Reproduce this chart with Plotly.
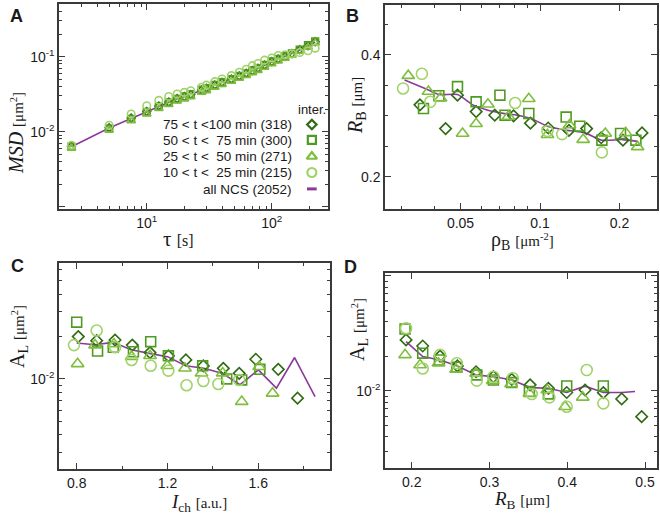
import plotly.graph_objects as go

W, H = 660, 521

# ---------------- Panel A : MSD vs tau ----------------
tau = [2.5, 5, 7.5, 10, 12.5, 15, 17.5, 20, 22.5, 27.5, 30, 35, 40, 47.5, 55,
       62.5, 70, 77.5, 87.5, 100, 112.5, 127.5, 145, 167.5, 195, 222.5]
msd_all = [0.0063, 0.0112, 0.0150, 0.0185, 0.0218, 0.0247, 0.0275, 0.0292, 0.0312,
           0.0357, 0.0378, 0.0418, 0.0452, 0.0498, 0.0548, 0.0598, 0.0648, 0.0698,
           0.0768, 0.0855, 0.0925, 0.1005, 0.1095, 0.1230, 0.1390, 0.1570]
msd_75_100 = [0.0064, 0.0113, 0.0152, 0.0186, 0.0220, 0.0248, 0.0276, 0.0294, 0.0313,
              0.0360, 0.0380, 0.0420, 0.0455, 0.0502, 0.0552, 0.0602, 0.0652, 0.0702,
              0.0772, 0.0860, 0.0930, 0.1010, 0.1100, 0.1240, 0.1400, 0.1580]
msd_50_75 = [0.0063, 0.0110, 0.0148, 0.0183, 0.0216, 0.0245, 0.0273, 0.0295, 0.0316,
             0.0362, 0.0380, 0.0422, 0.0457, 0.0500, 0.0555, 0.0600, 0.0655, 0.0700,
             0.0775, 0.0862, 0.0935, 0.1015, 0.1110, 0.1245, 0.1420, 0.1600]
msd_25_50 = [0.0060, 0.0105, 0.0140, 0.0172, 0.0203, 0.0230, 0.0256, 0.0273, 0.0292,
             0.0335, 0.0352, 0.0392, 0.0425, 0.0468, 0.0515, 0.0560, 0.0608, 0.0655,
             0.0722, 0.0805, 0.0872, 0.0950, 0.1040, 0.1180, 0.1340, 0.1530]
msd_10_25 = [0.0066, 0.0122, 0.0172, 0.0222, 0.0262, 0.0295, 0.0318, 0.0335, 0.0352,
             0.0392, 0.0418, 0.0465, 0.0505, 0.0560, 0.0620, 0.0680, 0.0760, 0.0810,
             0.0900, 0.0960, 0.1040, 0.1060, 0.1090, 0.1140, 0.1200, 0.1300]

# ---------------- Panel B : R_B vs rho_B ----------------
rhoB_all = [0.0307, 0.0367, 0.0414, 0.0487, 0.0556, 0.0626, 0.0726, 0.0817, 0.092,
            0.1067, 0.1237, 0.1479, 0.1715, 0.205, 0.234]
RB_all = [0.359, 0.345, 0.335, 0.335, 0.318, 0.310, 0.304, 0.301, 0.296,
          0.283, 0.277, 0.272, 0.260, 0.261, 0.258]
rhoB_75_100 = [0.0351, 0.0439, 0.0487, 0.0573, 0.0674, 0.0794, 0.092, 0.1074, 0.1287,
               0.1501, 0.1705, 0.2061, 0.2434]
RB_75_100 = [0.318, 0.279, 0.334, 0.307, 0.301, 0.300, 0.288, 0.280, 0.276,
             0.279, 0.264, 0.260, 0.272]
rhoB_50_75 = [0.0362, 0.0414, 0.0487, 0.0573, 0.0705, 0.0737, 0.0907, 0.1256, 0.1414,
              0.1715, 0.2018, 0.2307]
RB_50_75 = [0.312, 0.333, 0.348, 0.323, 0.334, 0.301, 0.304, 0.298, 0.283,
            0.260, 0.271, 0.260]
rhoB_25_50 = [0.0317, 0.0378, 0.042, 0.0509, 0.0573, 0.0635, 0.0759, 0.0907, 0.1067,
              0.1294, 0.1457, 0.1767, 0.2111, 0.2342]
RB_25_50 = [0.366, 0.340, 0.329, 0.271, 0.287, 0.319, 0.299, 0.328, 0.269,
            0.285, 0.261, 0.271, 0.272, 0.249]
rhoB_10_25 = [0.0303, 0.0357, 0.0384, 0.0805, 0.1067, 0.1213, 0.1715]
RB_10_25 = [0.345, 0.369, 0.323, 0.321, 0.275, 0.270, 0.240]

# ---------------- Panel C : A_L vs I_ch ----------------
Ich_all = [0.80, 0.88, 0.96, 1.04, 1.12, 1.20, 1.28, 1.36, 1.44, 1.52, 1.60, 1.68, 1.76, 1.85]
AL_C_all = [0.0180, 0.0175, 0.0182, 0.0161, 0.0152, 0.0144, 0.0124, 0.0119, 0.0110,
            0.0091, 0.0116, 0.0086, 0.0142, 0.0075]
Ich_75_100 = [0.807, 0.888, 0.969, 1.045, 1.123, 1.204, 1.281, 1.358, 1.446, 1.516,
              1.589, 1.688, 1.773]
AL_C_75_100 = [0.0200, 0.0187, 0.0189, 0.0174, 0.0154, 0.0146, 0.01365, 0.01237, 0.0119,
               0.01096, 0.0138, 0.0117, 0.0073]
Ich_50_75 = [0.800, 0.892, 0.961, 1.050, 1.126, 1.204, 1.355, 1.461, 1.527, 1.607]
AL_C_50_75 = [0.0253, 0.0158, 0.0168, 0.0156, 0.0184, 0.0146, 0.0124, 0.0100, 0.00984, 0.0117]
Ich_25_50 = [0.804, 0.881, 0.964, 1.042, 1.123, 1.199, 1.277, 1.350, 1.443, 1.527,
             1.604, 1.663]
AL_C_25_50 = [0.0128, 0.0174, 0.0177, 0.0144, 0.0146, 0.0124, 0.0119, 0.0110, 0.0110,
              0.0069, 0.0122, 0.0079]
Ich_10_25 = [0.788, 0.888, 0.969, 1.042, 1.126, 1.204, 1.284, 1.358, 1.424, 1.516]
AL_C_10_25 = [0.0174, 0.0221, 0.0168, 0.01365, 0.0124, 0.01146, 0.00902, 0.00968, 0.0092,
              0.00984]

# ---------------- Panel D : A_L vs R_B ----------------
RBd_all = [0.1927, 0.2141, 0.2364, 0.2587, 0.2827, 0.3050, 0.3286, 0.3522, 0.3757,
           0.3993, 0.4229, 0.4464, 0.4700, 0.4871]
AL_D_all = [0.0269, 0.0199, 0.0186, 0.0165, 0.0138, 0.0133, 0.0125, 0.0107, 0.01055,
            0.0097, 0.0110, 0.0097, 0.0097, 0.0099]
RBd_75_100 = [0.1927, 0.2141, 0.2364, 0.2587, 0.2827, 0.3050, 0.3286, 0.3522, 0.3757,
              0.3993, 0.4229, 0.4464, 0.4700, 0.4957]
AL_D_75_100 = [0.0278, 0.0246, 0.0201, 0.0165, 0.0147, 0.0133, 0.0126, 0.0113, 0.01055,
               0.0097, 0.0102, 0.00967, 0.00852, 0.00598]
RBd_50_75 = [0.1914, 0.2141, 0.2356, 0.2579, 0.2836, 0.3050, 0.3286, 0.3513, 0.3757,
             0.3993, 0.4464]
AL_D_50_75 = [0.0346, 0.0213, 0.0186, 0.0161, 0.0138, 0.01246, 0.01182, 0.00987, 0.00942,
              0.01105, 0.01105]
RBd_25_50 = [0.1914, 0.2107, 0.2343, 0.2570, 0.2827, 0.3041, 0.3277, 0.3513, 0.3744,
             0.3972, 0.4199]
AL_D_25_50 = [0.0206, 0.0168, 0.0174, 0.0154, 0.0142, 0.0123, 0.0115, 0.0095, 0.0102,
              0.0073, 0.0088]
RBd_10_25 = [0.1927, 0.2141, 0.2364, 0.2579, 0.2836, 0.3050, 0.3299, 0.3543, 0.3770,
             0.3993, 0.4250, 0.4464]
AL_D_10_25 = [0.0351, 0.0157, 0.0206, 0.0174, 0.0123, 0.0133, 0.0129, 0.0094, 0.0088,
              0.0073, 0.0152, 0.0078]

# ---------------- legend / labels ----------------
legend_labels = ["75 &lt; t &lt;100 min (318)",
                 "50 &lt; t &lt;\u00a0\u00a075 min (300)",
                 "25 &lt; t &lt;\u00a0\u00a050 min (271)",
                 "10 &lt; t &lt;\u00a0\u00a025 min (215)",
                 "all NCS (2052)"]

C_D = "#2f6b12"   # 75-100
C_S = "#4f9a22"   # 50-75
C_T = "#7fbd3e"   # 25-50
C_C = "#a2d36b"   # 10-25
C_P = "#8b3a9b"   # all NCS
SANS = "Liberation Sans, Arial, sans-serif"
SERIF = "Liberation Serif, Times New Roman, serif"
AXC = "#3a3a3a"

groups = [("diamond-open", C_D), ("square-open", C_S),
          ("triangle-up-open", C_T), ("circle-open", C_C)]
sym_scale = {"diamond-open": 0.8, "square-open": 0.9, "triangle-up-open": 1.0, "circle-open": 1.0}

fig = go.Figure()

def add_panel(xref, yref, xs_all, ys_all, series, msize, lw, spline=False):
    fig.add_trace(go.Scatter(x=xs_all, y=ys_all, mode="lines", xaxis=xref, yaxis=yref,
                             line=dict(color=C_P, width=1.6,
                                       shape="spline" if spline else "linear",
                                       smoothing=0.6),
                             showlegend=False, hoverinfo="skip"))
    for (sym, col), (xs, ys) in zip(groups, series):
        fig.add_trace(go.Scatter(x=xs, y=ys, mode="markers", xaxis=xref, yaxis=yref,
                                 marker=dict(symbol=sym, size=msize * sym_scale[sym],
                                             color=col, line=dict(color=col, width=lw)),
                                 showlegend=False))

add_panel("x", "y", tau, msd_all,
          [(tau, msd_75_100), (tau, msd_50_75), (tau, msd_25_50), (tau, msd_10_25)],
          7.5, 1.6)
add_panel("x2", "y2", rhoB_all, RB_all,
          [(rhoB_75_100, RB_75_100), (rhoB_50_75, RB_50_75),
           (rhoB_25_50, RB_25_50), (rhoB_10_25, RB_10_25)], 11, 1.6, spline=True)
add_panel("x3", "y3", Ich_all, AL_C_all,
          [(Ich_75_100, AL_C_75_100), (Ich_50_75, AL_C_50_75),
           (Ich_25_50, AL_C_25_50), (Ich_10_25, AL_C_10_25)], 11, 1.6)
add_panel("x4", "y4", RBd_all, AL_D_all,
          [(RBd_75_100, AL_D_75_100), (RBd_50_75, AL_D_50_75),
           (RBd_25_50, AL_D_25_50), (RBd_10_25, AL_D_10_25)], 11, 1.6)

# legend keys (panel A, symbols right of text)
leg_y = [0.412, 0.337, 0.256, 0.178]
for (sym, col), yy in zip(groups, leg_y):
    fig.add_trace(go.Scatter(x=[0.940], y=[yy], mode="markers", xaxis="x5", yaxis="y5",
                             marker=dict(symbol=sym, size=9 * sym_scale[sym],
                                         color=col, line=dict(color=col, width=2.2)),
                             showlegend=False, hoverinfo="skip"))
fig.add_shape(type="line", xref="x5", yref="y5", x0=0.922, x1=0.958, y0=0.098, y1=0.098,
              line=dict(color=C_P, width=3))

def px2paper(px, py):
    return px / W, 1 - py / H

def dom_x(a, b):
    return [a / W, b / W]

def dom_y(top, bottom):
    return [1 - bottom / H, 1 - top / H]

def ax_common(**kw):
    d = dict(showline=True, linecolor=AXC, linewidth=1.5, mirror="ticks",
             ticks="inside", ticklen=6, tickwidth=1.2, tickcolor=AXC,
             showgrid=False, zeroline=False,
             tickfont=dict(family=SANS, size=14, color="#1a1a1a"))
    d.update(kw)
    return d

minorA_x = [2, 3, 4, 5, 6, 7, 8, 9, 20, 30, 40, 50, 60, 70, 80, 90, 200]
minorA_y = [0.002, 0.003, 0.004, 0.005, 0.006, 0.007, 0.008, 0.009,
            0.02, 0.03, 0.04, 0.05, 0.06, 0.07, 0.08, 0.09, 0.2, 0.3, 0.4]
minorLog2 = [0.002, 0.003, 0.004, 0.005, 0.006, 0.007, 0.008, 0.009,
             0.02, 0.03, 0.04, 0.05, 0.06, 0.07, 0.08, 0.09]
mnr = lambda vals: dict(tickmode="array", tickvals=vals, ticks="inside", ticklen=3.5,
                        tickwidth=1, tickcolor=AXC, showgrid=False)

fig.update_layout(
    width=W, height=H, margin=dict(l=0, r=0, t=0, b=0),
    paper_bgcolor="white", plot_bgcolor="white", showlegend=False,
    xaxis=ax_common(domain=dom_x(59, 328), anchor="y", type="log", range=[0.298, 2.450],
                    tickmode="array", tickvals=[10, 100],
                    ticktext=["10<sup>1</sup>", "10<sup>2</sup>"], minor=mnr(minorA_x)),
    yaxis=ax_common(domain=dom_y(4, 209), anchor="x", type="log", range=[-3.031, -0.297],
                    tickmode="array", tickvals=[0.001, 0.01, 0.1],
                    ticktext=["", "10<sup>-2</sup>", "10<sup>-1</sup>"], minor=mnr(minorA_y)),
    xaxis2=ax_common(domain=dom_x(385, 657), anchor="y2", type="log", range=[-1.587, -0.557],
                     tickmode="array", tickvals=[0.05, 0.1, 0.2], ticktext=["0.05", "0.1", "0.2"],
                     minor=mnr([0.03, 0.04, 0.06, 0.07, 0.08, 0.09])),
    yaxis2=ax_common(domain=dom_y(5, 209), anchor="x2", range=[0.147, 0.482],
                     tickmode="array", tickvals=[0.2, 0.4], ticktext=["0.2", "0.4"],
                     minor=mnr([0.25, 0.3, 0.35, 0.45])),
    xaxis3=ax_common(domain=dom_x(59, 330), anchor="y3", range=[0.722, 1.916],
                     tickmode="array", tickvals=[0.8, 1.2, 1.6], ticktext=["0.8", "1.2", "1.6"],
                     minor=mnr([1.0, 1.4, 1.8])),
    yaxis3=ax_common(domain=dom_y(263, 469), anchor="x3", type="log", range=[-2.640, -1.176],
                     tickmode="array", tickvals=[0.01], ticktext=["10<sup>-2</sup>"],
                     minor=mnr(minorLog2)),
    xaxis4=ax_common(domain=dom_x(385, 657), anchor="y4", range=[0.1656, 0.5154],
                     tickmode="array", tickvals=[0.2, 0.3, 0.4, 0.5],
                     ticktext=["0.2", "0.3", "0.4", "0.5"]),
    yaxis4=ax_common(domain=dom_y(273, 468), anchor="x4", type="log", range=[-2.670, -0.974],
                     tickmode="array", tickvals=[0.01, 0.1], ticktext=["10<sup>-2</sup>", ""],
                     minor=mnr(minorLog2)),
    xaxis5=dict(domain=dom_x(59, 328), anchor="y5", range=[0, 1], visible=False, overlaying="x"),
    yaxis5=dict(domain=dom_y(4, 209), anchor="x5", range=[0, 1], visible=False, overlaying="y"),
)

annots = []

def ann(text, px, py, size=16, family=SERIF, angle=0, xanchor="center", color="#1a1a1a"):
    x, y = px2paper(px, py)
    annots.append(dict(text=text, x=x, y=y, xref="paper", yref="paper", showarrow=False,
                       xanchor=xanchor, yanchor="middle", textangle=angle,
                       font=dict(family=family, size=size, color=color)))

# panel letters
ann("<b>A</b>", 16, 16, size=18, family=SANS)
ann("<b>B</b>", 352, 16, size=18, family=SANS)
ann("<b>C</b>", 17, 266, size=18, family=SANS)
ann("<b>D</b>", 350, 267, size=18, family=SANS)

# axis titles
ann("<i>MSD</i> <span style='font-size:15px'>[μm<sup>2</sup>]</span>", 16, 133, size=20, angle=-90)
ann("τ <span style='font-size:16px'>[s]</span>", 178, 239, size=21)
ann("<i>R</i><sub>B</sub> <span style='font-size:15px'>[μm]</span>", 357, 106, size=20, angle=-90)
ann("ρ<sub>B</sub> <span style='font-size:15px'>[μm<sup>-2</sup>]</span>", 522, 240, size=20)
ann("A<sub>L</sub> <span style='font-size:15px'>[μm<sup>2</sup>]</span>", 18, 337, size=20, angle=-90)
ann("<i>I</i><sub>ch</sub> <span style='font-size:15px'>[a.u.]</span>", 199, 503, size=19)
ann("A<sub>L</sub> <span style='font-size:15px'>[μm<sup>2</sup>]</span>", 358, 330, size=20, angle=-90)
ann("<i>R</i><sub>B</sub> <span style='font-size:15px'>[μm]</span>", 522, 500, size=19)

# legend texts
ann("inter.", 312, 109, size=13, family=SANS)
leg_rows = [124.5, 140, 156.5, 172.5, 189]
for lab, py in zip(legend_labels, leg_rows):
    ann(lab, 294, py, size=13.5, family=SANS, xanchor="right")

fig.update_layout(annotations=annots)

fig.write_html("out.html", config={"displayModeBar": False},
               post_script="document.body.style.margin='0px';")
